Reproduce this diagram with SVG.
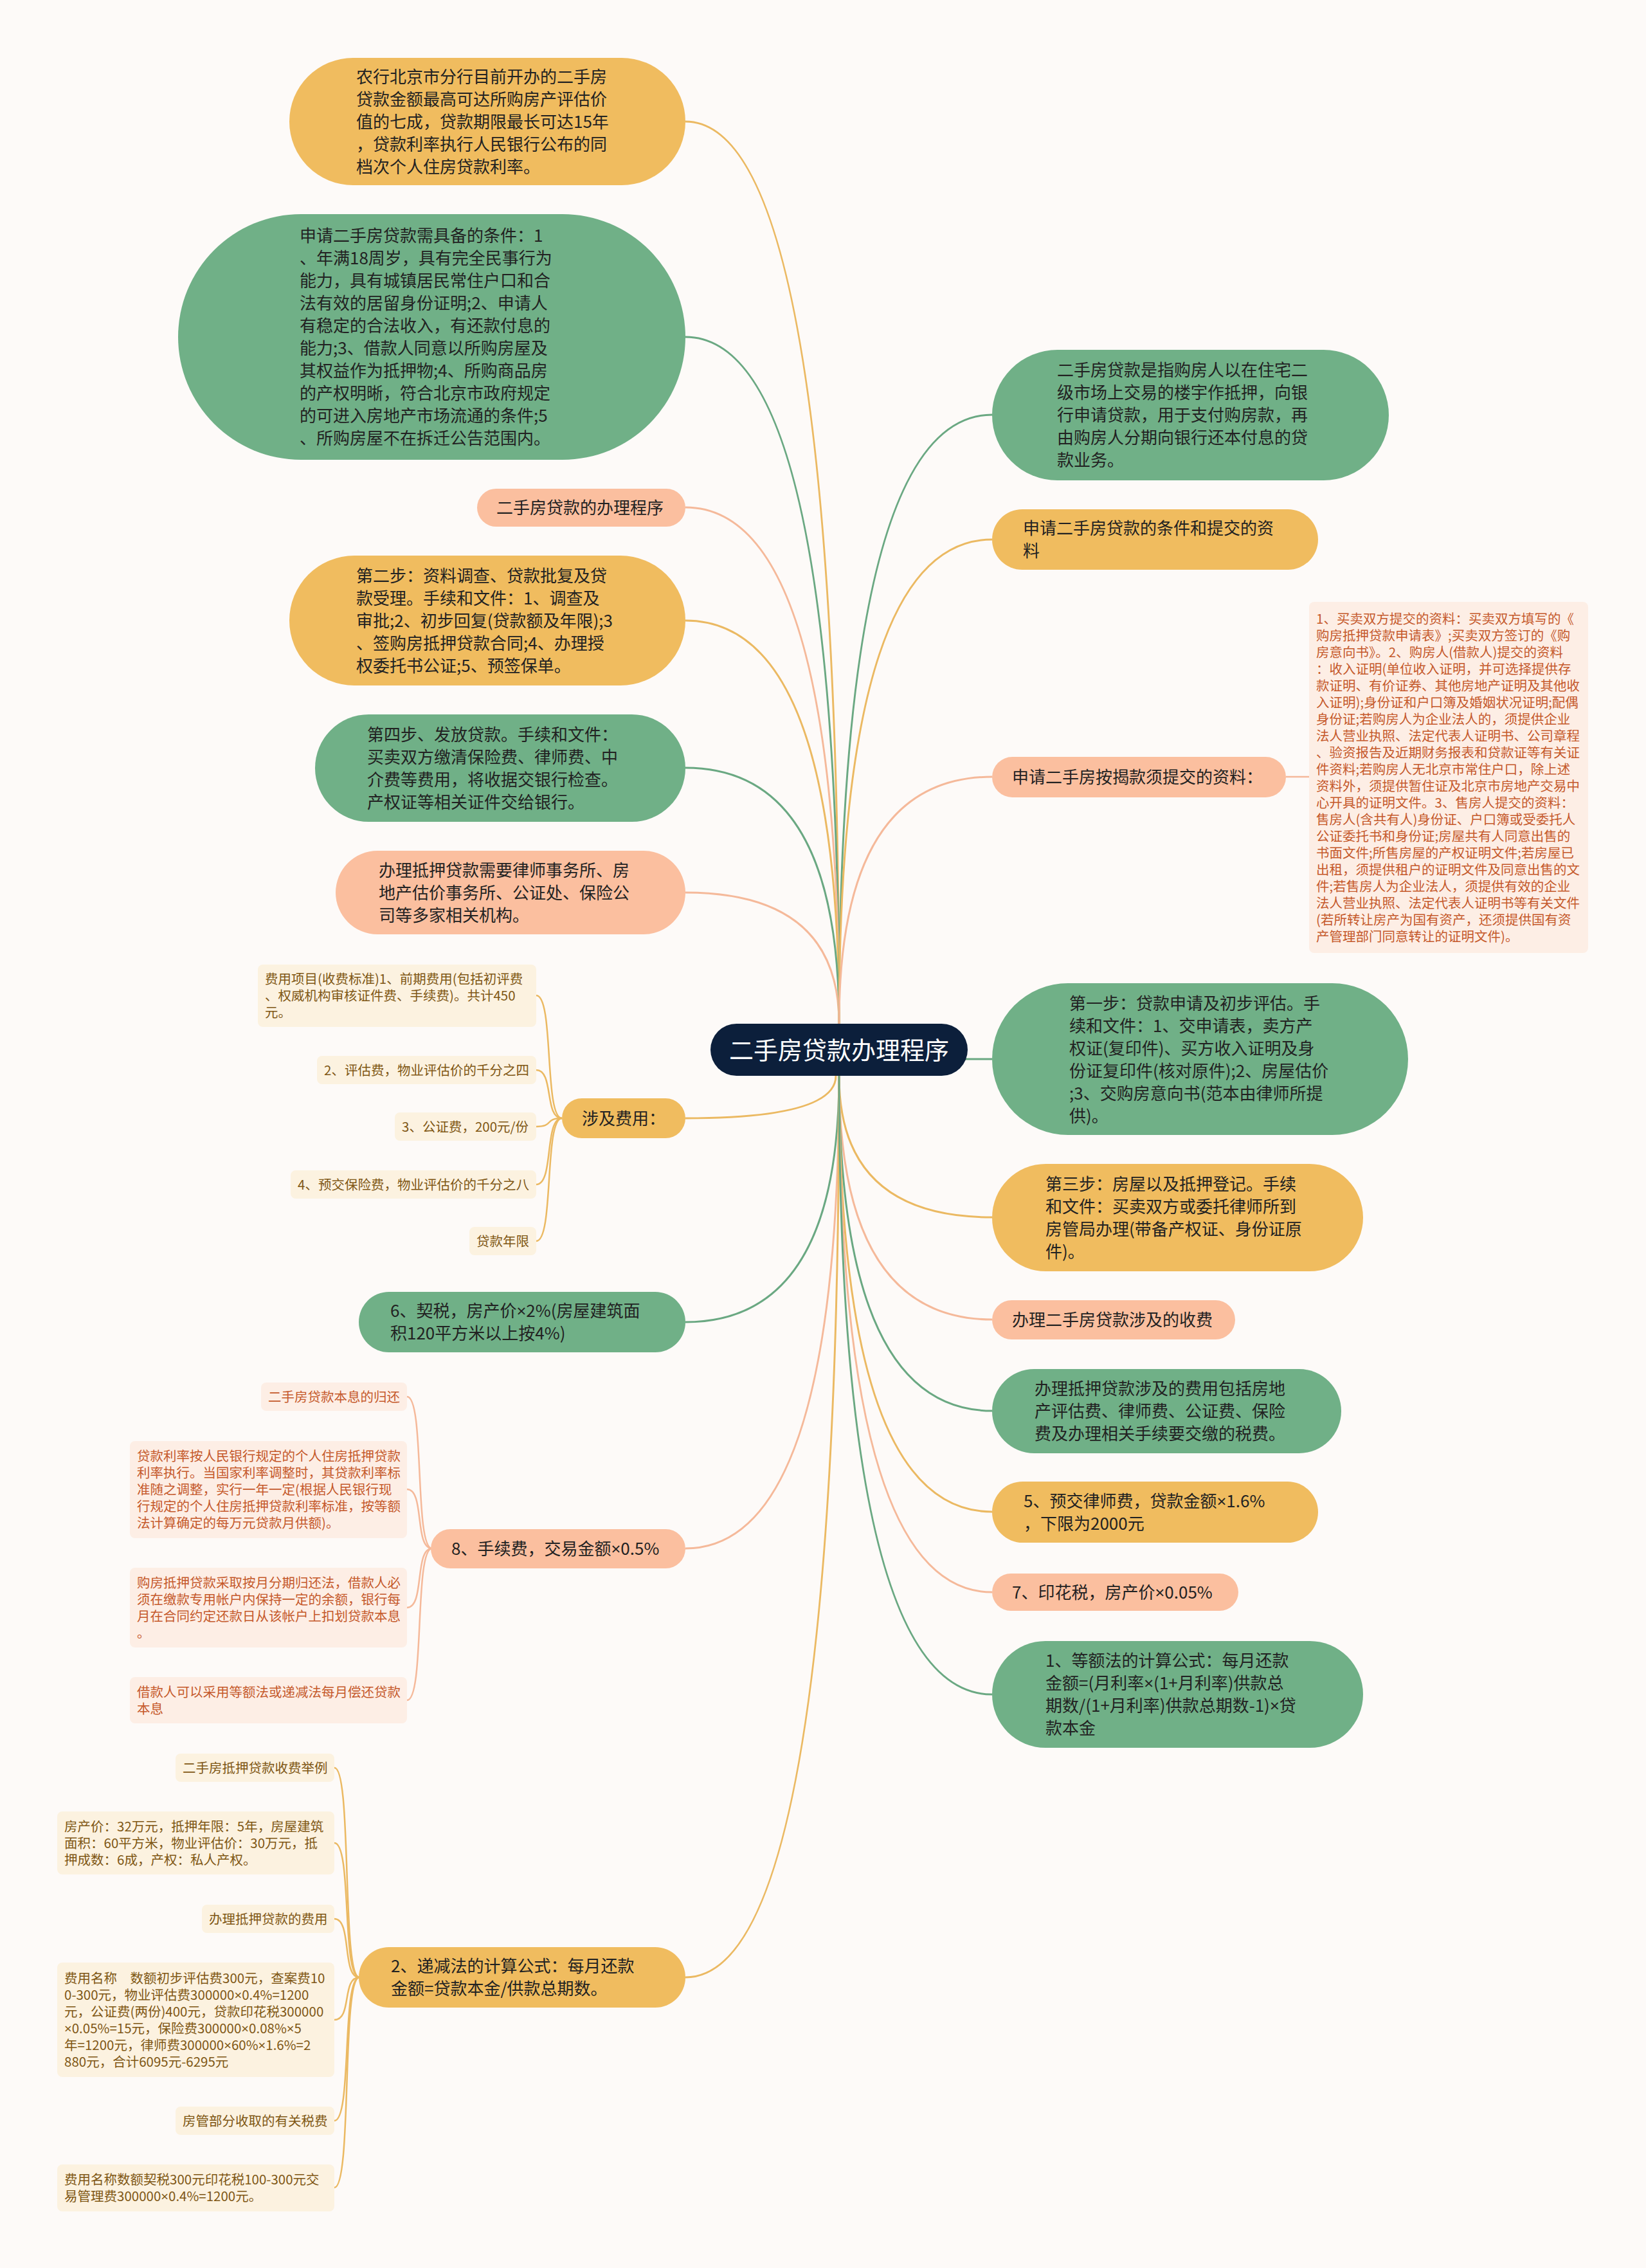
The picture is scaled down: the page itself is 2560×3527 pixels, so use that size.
<svg xmlns="http://www.w3.org/2000/svg" width="2560" height="3527" viewBox="0 0 2560 3527">
<style>
text { font-family: "Noto Sans CJK SC", "Noto Sans", sans-serif; }
.x { font-family: "Noto Sans", "Liberation Sans", sans-serif; }
.t { font-size: 26px; fill: #222222; }
.lf { font-size: 20.5px; }
.lo { fill: #7f5714; }
.ls { fill: #c5592b; }
.fo { fill: #f0bc5f; }
.fg { fill: #70b087; }
.fs { fill: #fbbf9f; }
.bo { fill: #fcf2e0; }
.bs { fill: #fdeee5; }
.co { fill: none; stroke: #ebb962; stroke-width: 3; }
.cg { fill: none; stroke: #6aa882; stroke-width: 3; }
.cs { fill: none; stroke: #f5b99a; stroke-width: 3; }
.ko { fill: none; stroke: #ebb962; stroke-width: 2.5; }
.ks { fill: none; stroke: #f5b99a; stroke-width: 2.5; }
</style>
<rect x="0" y="0" width="2560" height="3527" fill="#fdfaf8"/>

<g id="connectors">
  <path class="co" d="M1066,189 Q1305,189 1305,1592"/>
  <path class="cg" d="M1066,524 Q1305,524 1305,1592"/>
  <path class="cs" d="M1066,789 Q1305,789 1305,1592"/>
  <path class="co" d="M1066,965 Q1305,965 1305,1592"/>
  <path class="cg" d="M1066,1194 Q1305,1194 1305,1592"/>
  <path class="cs" d="M1066,1388 Q1305,1388 1305,1592"/>
  <path class="cg" d="M1543,645 Q1305,645 1305,1592"/>
  <path class="co" d="M1543,839 Q1305,839 1305,1592"/>
  <path class="cs" d="M1543,1208 Q1305,1208 1305,1592"/>
  <path class="cg" d="M1305,1647 L1543,1647"/>
  <path class="co" d="M1066,1739 Q1300,1739 1300,1673"/>
  <path class="cg" d="M1066,2056 Q1305,2056 1305,1673"/>
  <path class="cs" d="M1066,2408 Q1305,2408 1305,1673"/>
  <path class="co" d="M1066,3075 Q1305,3075 1305,1673"/>
  <path class="co" d="M1543,1893 Q1305,1893 1305,1673"/>
  <path class="cs" d="M1543,2052 Q1305,2052 1305,1673"/>
  <path class="cg" d="M1543,2194 Q1305,2194 1305,1673"/>
  <path class="co" d="M1543,2351 Q1305,2351 1305,1673"/>
  <path class="cs" d="M1543,2476 Q1305,2476 1305,1673"/>
  <path class="cg" d="M1543,2635 Q1305,2635 1305,1673"/>
  <path class="ks" d="M2000,1208 L2036,1208"/>
  <path class="ko" d="M874,1739 C846,1739 862,1548 834,1548"/>
  <path class="ko" d="M874,1739 C846,1739 862,1664 834,1664"/>
  <path class="ko" d="M874,1739 C846,1739 862,1752 834,1752"/>
  <path class="ko" d="M874,1739 C846,1739 862,1842 834,1842"/>
  <path class="ko" d="M874,1739 C846,1739 862,1930 834,1930"/>
  <path class="ks" d="M672,2408 C644,2408 661,2172 633,2172"/>
  <path class="ks" d="M672,2408 C644,2408 661,2316 633,2316"/>
  <path class="ks" d="M672,2408 C644,2408 661,2500 633,2500"/>
  <path class="ks" d="M672,2408 C644,2408 661,2644 633,2644"/>
  <path class="ko" d="M559,3075 C531,3075 548,2749 520,2749"/>
  <path class="ko" d="M559,3075 C531,3075 548,2866 520,2866"/>
  <path class="ko" d="M559,3075 C531,3075 548,2984 520,2984"/>
  <path class="ko" d="M559,3075 C531,3075 548,3141 520,3141"/>
  <path class="ko" d="M559,3075 C531,3075 548,3298 520,3298"/>
  <path class="ko" d="M559,3075 C531,3075 548,3402 520,3402"/>
</g>

<g id="center">
  <rect x="1105" y="1592" width="400" height="81" rx="40.5" fill="#0c1f3b"/>
  <text x="1305" y="1647" font-size="38" fill="#ffffff" text-anchor="middle">二手房贷款办理程序</text>
</g>

<g id="n-l1">
  <rect class="fo" x="450" y="90" width="616" height="198" rx="99"/>
  <text class="t"><tspan x="554" y="129">农行北京市分行目前开办的二手房</tspan><tspan x="554" y="164">贷款金额最高可达所购房产评估价</tspan><tspan x="554" y="199">值的七成，贷款期限最长可达15年</tspan><tspan x="554" y="234">，贷款利率执行人民银行公布的同</tspan><tspan x="554" y="269">档次个人住房贷款利率。</tspan></text>
</g>

<g id="n-l2">
  <rect class="fg" x="277" y="333" width="789" height="382" rx="191"/>
  <text class="t"><tspan x="466" y="376">申请二手房贷款需具备的条件：1</tspan><tspan x="466" y="411">、年满18周岁，具有完全民事行为</tspan><tspan x="466" y="446">能力，具有城镇居民常住户口和合</tspan><tspan x="466" y="481">法有效的居留身份证明;2、申请人</tspan><tspan x="466" y="516">有稳定的合法收入，有还款付息的</tspan><tspan x="466" y="551">能力;3、借款人同意以所购房屋及</tspan><tspan x="466" y="586">其权益作为抵押物;4、所购商品房</tspan><tspan x="466" y="621">的产权明晰，符合北京市政府规定</tspan><tspan x="466" y="656">的可进入房地产市场流通的条件;5</tspan><tspan x="466" y="691">、所购房屋不在拆迁公告范围内。</tspan></text>
</g>

<g id="n-l3">
  <rect class="fs" x="742" y="760" width="324" height="59" rx="29.5"/>
  <text class="t" x="772" y="799">二手房贷款的办理程序</text>
</g>

<g id="n-l4">
  <rect class="fo" x="450" y="864" width="616" height="202" rx="101"/>
  <text class="t"><tspan x="554" y="905">第二步：资料调查、贷款批复及贷</tspan><tspan x="554" y="940">款受理。手续和文件：1、调查及</tspan><tspan x="554" y="975">审批;2、初步回复(贷款额及年限);3</tspan><tspan x="554" y="1010">、签购房抵押贷款合同;4、办理授</tspan><tspan x="554" y="1045">权委托书公证;5、预签保单。</tspan></text>
</g>

<g id="n-l5">
  <rect class="fg" x="490" y="1111" width="576" height="167" rx="83.5"/>
  <text class="t"><tspan x="571" y="1152">第四步、发放贷款。手续和文件：</tspan><tspan x="571" y="1187">买卖双方缴清保险费、律师费、中</tspan><tspan x="571" y="1222">介费等费用，将收据交银行检查。</tspan><tspan x="571" y="1257">产权证等相关证件交给银行。</tspan></text>
</g>

<g id="n-l6">
  <rect class="fs" x="522" y="1323" width="544" height="130" rx="65"/>
  <text class="t"><tspan x="589" y="1363">办理抵押贷款需要律师事务所、房</tspan><tspan x="589" y="1398">地产估价事务所、公证处、保险公</tspan><tspan x="589" y="1433">司等多家相关机构。</tspan></text>
</g>

<g id="n-l7">
  <rect class="fo" x="874" y="1708" width="192" height="62" rx="31"/>
  <text class="t" x="905" y="1749">涉及费用：</text>
</g>
<g id="n-l7a">
  <rect class="bo" x="401" y="1500" width="433" height="97" rx="8"/>
  <text class="lf lo"><tspan x="412" y="1530">费用项目(收费标准)1、前期费用(包括初评费</tspan><tspan x="412" y="1556">、权威机构审核证件费、手续费)。共计450</tspan><tspan x="412" y="1582">元。</tspan></text>
</g>
<g id="n-l7b">
  <rect class="bo" x="493" y="1642" width="341" height="44" rx="8"/>
  <text class="lf lo" x="504" y="1672">2、评估费，物业评估价的千分之四</text>
</g>
<g id="n-l7c">
  <rect class="bo" x="614" y="1730" width="220" height="44" rx="8"/>
  <text class="lf lo" x="625" y="1760">3、公证费，200元/份</text>
</g>
<g id="n-l7d">
  <rect class="bo" x="452" y="1820" width="382" height="44" rx="8"/>
  <text class="lf lo" x="463" y="1850">4、预交保险费，物业评估价的千分之八</text>
</g>
<g id="n-l7e">
  <rect class="bo" x="730" y="1908" width="104" height="44" rx="8"/>
  <text class="lf lo" x="741" y="1938">贷款年限</text>
</g>

<g id="n-l8">
  <rect class="fg" x="558" y="2009" width="508" height="94" rx="47"/>
  <text class="t"><tspan x="607" y="2048">6、契税，房产价<tspan class="x">×</tspan>2%(房屋建筑面</tspan><tspan x="607" y="2083">积120平方米以上按4%)</tspan></text>
</g>

<g id="n-l9">
  <rect class="fs" x="670" y="2378" width="396" height="61" rx="30.5"/>
  <text class="t" x="702" y="2418">8、手续费，交易金额<tspan class="x">×</tspan>0.5%</text>
</g>
<g id="n-l9a">
  <rect class="bs" x="406" y="2150" width="227" height="44" rx="8"/>
  <text class="lf ls" x="417" y="2180">二手房贷款本息的归还</text>
</g>
<g id="n-l9b">
  <rect class="bs" x="202" y="2241" width="431" height="151" rx="8"/>
  <text class="lf ls"><tspan x="213" y="2272">贷款利率按人民银行规定的个人住房抵押贷款</tspan><tspan x="213" y="2298">利率执行。当国家利率调整时，其贷款利率标</tspan><tspan x="213" y="2324">准随之调整，实行一年一定(根据人民银行现</tspan><tspan x="213" y="2350">行规定的个人住房抵押贷款利率标准，按等额</tspan><tspan x="213" y="2376">法计算确定的每万元贷款月供额)。</tspan></text>
</g>
<g id="n-l9c">
  <rect class="bs" x="202" y="2438" width="431" height="124" rx="8"/>
  <text class="lf ls"><tspan x="213" y="2469">购房抵押贷款采取按月分期归还法，借款人必</tspan><tspan x="213" y="2495">须在缴款专用帐户内保持一定的余额，银行每</tspan><tspan x="213" y="2521">月在合同约定还款日从该帐户上扣划贷款本息</tspan><tspan x="213" y="2547">。</tspan></text>
</g>
<g id="n-l9d">
  <rect class="bs" x="202" y="2608" width="431" height="72" rx="8"/>
  <text class="lf ls"><tspan x="213" y="2639">借款人可以采用等额法或递减法每月偿还贷款</tspan><tspan x="213" y="2665">本息</tspan></text>
</g>

<g id="n-l10">
  <rect class="fo" x="558" y="3028" width="508" height="94" rx="47"/>
  <text class="t"><tspan x="608" y="3067">2、递减法的计算公式：每月还款</tspan><tspan x="608" y="3102">金额=贷款本金/供款总期数。</tspan></text>
</g>
<g id="n-l10a">
  <rect class="bo" x="273" y="2727" width="247" height="44" rx="8"/>
  <text class="lf lo" x="284" y="2757">二手房抵押贷款收费举例</text>
</g>
<g id="n-l10b">
  <rect class="bo" x="89" y="2817" width="431" height="98" rx="8"/>
  <text class="lf lo"><tspan x="100" y="2848">房产价：32万元，抵押年限：5年，房屋建筑</tspan><tspan x="100" y="2874">面积：60平方米，物业评估价：30万元，抵</tspan><tspan x="100" y="2900">押成数：6成，产权：私人产权。</tspan></text>
</g>
<g id="n-l10c">
  <rect class="bo" x="314" y="2962" width="206" height="44" rx="8"/>
  <text class="lf lo" x="325" y="2992">办理抵押贷款的费用</text>
</g>
<g id="n-l10d">
  <rect class="bo" x="89" y="3052" width="431" height="178" rx="8"/>
  <text class="lf lo"><tspan x="100" y="3084">费用名称　数额初步评估费300元，查案费10</tspan><tspan x="100" y="3110">0-300元，物业评估费300000<tspan class="x">×</tspan>0.4%=1200</tspan><tspan x="100" y="3136">元，公证费(两份)400元，贷款印花税300000</tspan><tspan x="100" y="3162"><tspan class="x">×</tspan>0.05%=15元，保险费300000<tspan class="x">×</tspan>0.08%<tspan class="x">×</tspan>5</tspan><tspan x="100" y="3188">年=1200元，律师费300000<tspan class="x">×</tspan>60%<tspan class="x">×</tspan>1.6%=2</tspan><tspan x="100" y="3214">880元，合计6095元-6295元</tspan></text>
</g>
<g id="n-l10e">
  <rect class="bo" x="273" y="3276" width="247" height="44" rx="8"/>
  <text class="lf lo" x="284" y="3306">房管部分收取的有关税费</text>
</g>
<g id="n-l10f">
  <rect class="bo" x="89" y="3366" width="431" height="73" rx="8"/>
  <text class="lf lo"><tspan x="100" y="3397">费用名称数额契税300元印花税100-300元交</tspan><tspan x="100" y="3423">易管理费300000<tspan class="x">×</tspan>0.4%=1200元。</tspan></text>
</g>

<g id="n-r1">
  <rect class="fg" x="1543" y="544" width="617" height="203" rx="101.5"/>
  <text class="t"><tspan x="1644" y="585">二手房贷款是指购房人以在住宅二</tspan><tspan x="1644" y="620">级市场上交易的楼宇作抵押，向银</tspan><tspan x="1644" y="655">行申请贷款，用于支付购房款，再</tspan><tspan x="1644" y="690">由购房人分期向银行还本付息的贷</tspan><tspan x="1644" y="725">款业务。</tspan></text>
</g>
<g id="n-r2">
  <rect class="fo" x="1543" y="792" width="507" height="94" rx="47"/>
  <text class="t"><tspan x="1591" y="831">申请二手房贷款的条件和提交的资</tspan><tspan x="1591" y="866">料</tspan></text>
</g>
<g id="n-r3">
  <rect class="fs" x="1543" y="1177" width="457" height="63" rx="31.5"/>
  <text class="t" x="1574" y="1218">申请二手房按揭款须提交的资料：</text>
</g>
<g id="n-r3a">
  <rect class="bs" x="2036" y="936" width="434" height="546" rx="8"/>
  <text class="lf ls"><tspan x="2047" y="970">1、买卖双方提交的资料：买卖双方填写的《</tspan><tspan x="2047" y="996">购房抵押贷款申请表》;买卖双方签订的《购</tspan><tspan x="2047" y="1022">房意向书》。2、购房人(借款人)提交的资料</tspan><tspan x="2047" y="1048">：收入证明(单位收入证明，并可选择提供存</tspan><tspan x="2047" y="1074">款证明、有价证券、其他房地产证明及其他收</tspan><tspan x="2047" y="1100">入证明);身份证和户口簿及婚姻状况证明;配偶</tspan><tspan x="2047" y="1126">身份证;若购房人为企业法人的，须提供企业</tspan><tspan x="2047" y="1152">法人营业执照、法定代表人证明书、公司章程</tspan><tspan x="2047" y="1178">、验资报告及近期财务报表和贷款证等有关证</tspan><tspan x="2047" y="1204">件资料;若购房人无北京市常住户口，除上述</tspan><tspan x="2047" y="1230">资料外，须提供暂住证及北京市房地产交易中</tspan><tspan x="2047" y="1256">心开具的证明文件。3、售房人提交的资料：</tspan><tspan x="2047" y="1282">售房人(含共有人)身份证、户口簿或受委托人</tspan><tspan x="2047" y="1308">公证委托书和身份证;房屋共有人同意出售的</tspan><tspan x="2047" y="1334">书面文件;所售房屋的产权证明文件;若房屋已</tspan><tspan x="2047" y="1360">出租，须提供租户的证明文件及同意出售的文</tspan><tspan x="2047" y="1386">件;若售房人为企业法人，须提供有效的企业</tspan><tspan x="2047" y="1412">法人营业执照、法定代表人证明书等有关文件</tspan><tspan x="2047" y="1438">(若所转让房产为国有资产，还须提供国有资</tspan><tspan x="2047" y="1464">产管理部门同意转让的证明文件)。</tspan></text>
</g>
<g id="n-r4">
  <rect class="fg" x="1543" y="1529" width="647" height="236" rx="118"/>
  <text class="t"><tspan x="1663" y="1570">第一步：贷款申请及初步评估。手</tspan><tspan x="1663" y="1605">续和文件：1、交申请表，卖方产</tspan><tspan x="1663" y="1640">权证(复印件)、买方收入证明及身</tspan><tspan x="1663" y="1675">份证复印件(核对原件);2、房屋估价</tspan><tspan x="1663" y="1710">;3、交购房意向书(范本由律师所提</tspan><tspan x="1663" y="1745">供)。</tspan></text>
</g>
<g id="n-r5">
  <rect class="fo" x="1543" y="1810" width="577" height="167" rx="83.5"/>
  <text class="t"><tspan x="1626" y="1851">第三步：房屋以及抵押登记。手续</tspan><tspan x="1626" y="1886">和文件：买卖双方或委托律师所到</tspan><tspan x="1626" y="1921">房管局办理(带备产权证、身份证原</tspan><tspan x="1626" y="1956">件)。</tspan></text>
</g>
<g id="n-r6">
  <rect class="fs" x="1543" y="2022" width="378" height="61" rx="30.5"/>
  <text class="t" x="1574" y="2062">办理二手房贷款涉及的收费</text>
</g>
<g id="n-r7">
  <rect class="fg" x="1543" y="2129" width="543" height="131" rx="65.5"/>
  <text class="t"><tspan x="1609" y="2169">办理抵押贷款涉及的费用包括房地</tspan><tspan x="1609" y="2204">产评估费、律师费、公证费、保险</tspan><tspan x="1609" y="2239">费及办理相关手续要交缴的税费。</tspan></text>
</g>
<g id="n-r8">
  <rect class="fo" x="1543" y="2304" width="507" height="95" rx="47.5"/>
  <text class="t"><tspan x="1592" y="2344">5、预交律师费，贷款金额<tspan class="x">×</tspan>1.6%</tspan><tspan x="1592" y="2379">，下限为2000元</tspan></text>
</g>
<g id="n-r9">
  <rect class="fs" x="1543" y="2447" width="383" height="58" rx="29"/>
  <text class="t" x="1574" y="2486">7、印花税，房产价<tspan class="x">×</tspan>0.05%</text>
</g>
<g id="n-r10">
  <rect class="fg" x="1543" y="2552" width="577" height="166" rx="83"/>
  <text class="t"><tspan x="1626" y="2592">1、等额法的计算公式：每月还款</tspan><tspan x="1626" y="2627">金额=(月利率<tspan class="x">×</tspan>(1+月利率)供款总</tspan><tspan x="1626" y="2662">期数/(1+月利率)供款总期数-1)<tspan class="x">×</tspan>贷</tspan><tspan x="1626" y="2697">款本金</tspan></text>
</g>
</svg>
